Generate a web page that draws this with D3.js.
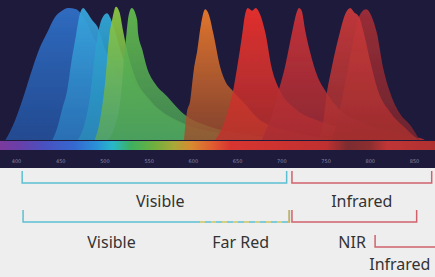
<!DOCTYPE html>
<html>
<head>
<meta charset="utf-8">
<script src="https://cdn.jsdelivr.net/npm/d3@7"></script>
<style>
  html, body { margin: 0; padding: 0; background: #eeeeee; }
  svg { display: block; }
</style>
</head>
<body>
<div id="chart"></div>
<script>
// wavelength ticks (nm)
const ticks = [400, 450, 500, 550, 600, 650, 700, 750, 800, 850];

// emission spectra: [wavelength nm, relative intensity]
const blueBroad = [[388,0],[393,6],[399,15],[407,30],[419,55],[427,70],[435,81],[444,93],[452,98],[459,100],[468,99],[478,91],[489,76],[506,57],[529,38],[563,19],[608,8],[665,2],[700,0]];
const blueSky = [[441,0],[446,8],[452,23],[458,38],[463,61],[468,80],[472,95],[476,100],[480,97],[486,91],[492,86],[501,68],[512,53],[529,34],[563,15],[619,5],[687,0]];
const cyan = [[470,0],[477,11],[484,34],[489,64],[494,85],[498,93],[503,96],[507,92],[513,80],[520,64],[529,49],[546,33],[574,17],[631,5],[710,0]];
const yellowGreen = [[489,0],[495,15],[501,45],[505,76],[509,92],[513,101],[517,97],[521,83],[527,64],[535,47],[552,30],[585,14],[642,4],[721,0]];
const green = [[504,0],[512,11],[518,30],[520,43],[523,68],[525,81],[527,93],[531,100],[537,91],[538,81],[543,68],[548,55],[557,43],[571,33],[589,20],[619,10],[653,5],[721,0]];
const orange = [[590,0],[593,20],[597,30],[601,53],[605,68],[609,87],[614,99],[618,95],[623,81],[631,55],[637,44],[644,38],[659,27],[676,15],[721,5],[766,0]];
const red1 = [[625,0],[633,9],[640,23],[645,36],[650,55],[656,81],[659,95],[662,100],[667,98],[671,100],[676,95],[682,81],[689,55],[698,38],[715,24],[744,14],[789,6],[857,1.5],[862,0]];
const red2 = [[678,0],[687,15],[693,27],[698,40],[704,55],[712,81],[718,98],[720,100],[723,98],[727,83],[732,68],[741,48],[749,38],[766,23],[789,14],[834,5],[862,0]];
const red3 = [[741,0],[746,8],[752,38],[757,55],[766,81],[772,95],[778,100],[782,97],[788,93],[794,79],[800,61],[809,38],[823,21],[840,9],[855,0]];
const red4 = [[757,0],[766,23],[775,53],[783,80],[789,95],[796,99],[803,92],[808,81],[815,55],[823,36],[834,20],[846,11],[852,5],[856,0]];

// drawing order (back to front) and colours
const spectra = [blueBroad, blueSky, cyan, yellowGreen, green, orange, red1, red2, red4, red3];
const topColors = ["#2f6fc6", "#38a6dc", "#2fa6d6", "#8cc640", "#62ba4c", "#ea7a2c", "#ea302c", "#cc3238", "#a02e36", "#c8383a"];
const bottomColors = ["#2556a6", "#2a78bc", "#2a8cb8", "#5aa85a", "#4a9e58", "#9c4c2c", "#c0302c", "#a82c32", "#80262e", "#a8302f"];

// brackets under the spectrum: [from nm, to nm]
const bandsTop = [[407, 706], [712, 870]];
const bandsTopLabels = ["Visible", "Infrared"];
const bandsTopLabelNm = [563, 791];
const bandsBottom = [[408, 709], [712, 853]];
const farRedRange = [608, 709];
const irSubRange = [806, 880];
const bandsBottomLabels = ["Visible", "Far Red", "NIR"];
const bandsBottomLabelNm = [508, 654, 780];
const irSubLabel = "Infrared";
const irSubLabelNm = 834;

const W = 435, H = 277;
const x = d3.scaleLinear().domain([400, 850]).range([16, 414]);
const y = d3.scaleLinear().domain([0, 100]).range([140, 8]);

const svg = d3.select("#chart").append("svg").attr("width", W).attr("height", H);
const defs = svg.append("defs");

// soft edges like the photo
defs.append("filter").attr("id", "soft")
  .append("feGaussianBlur").attr("stdDeviation", 0.5);

// backgrounds
svg.append("rect").attr("width", W).attr("height", H).attr("fill", "#eeeeee");
svg.append("rect").attr("width", W).attr("height", 168).attr("fill", "#1d1a3c");

// spectra
const area = d3.area()
  .x(d => x(d[0]))
  .y0(y(0))
  .y1(d => y(d[1]))
  .curve(d3.curveMonotoneX);

const gSpec = svg.append("g").attr("filter", "url(#soft)");
spectra.forEach((s, i) => {
  const g = defs.append("linearGradient").attr("id", "g" + i)
    .attr("x1", 0).attr("y1", 0).attr("x2", 0).attr("y2", 1);
  g.append("stop").attr("offset", "0%").attr("stop-color", topColors[i]).attr("stop-opacity", 0.95);
  g.append("stop").attr("offset", "100%").attr("stop-color", bottomColors[i]).attr("stop-opacity", 0.8);
  gSpec.append("path").datum(s).attr("d", area).attr("fill", "url(#g" + i + ")");
});

// colour bar
const barStops = [
  [0, "#7b3a9c"], [0.04, "#6b3ea8"], [0.1, "#4a50c0"], [0.17, "#3568d0"], [0.22, "#2a8fd8"],
  [0.26, "#28b8c8"], [0.3, "#3cb060"], [0.35, "#6ab040"], [0.4, "#a8a838"], [0.44, "#d88a30"],
  [0.49, "#e05a30"], [0.53, "#d83530"], [0.75, "#c03030"], [0.8, "#7c2c30"], [0.85, "#8c2e30"],
  [0.89, "#c03535"], [1, "#b03030"]
];
const bar = defs.append("linearGradient").attr("id", "bar");
barStops.forEach(s => bar.append("stop").attr("offset", s[0]).attr("stop-color", s[1]));
svg.append("rect").attr("x", 0).attr("y", 141).attr("width", W).attr("height", 9).attr("fill", "url(#bar)");

// tick labels
const axis = svg.append("g").attr("transform", "translate(0,158)")
  .call(d3.axisBottom(x).tickValues(ticks).tickSize(0).tickPadding(1));
axis.select(".domain").remove();
axis.selectAll("text").attr("fill", "#8c89a6").style("font-size", "5px").style("font-family", "DejaVu Sans");

// brackets
const cyanC = "#5cc0d2", redC = "#d0626c";
function bracket(r, top, bottom, color) {
  svg.append("path")
    .attr("d", `M${x(r[0])},${top}V${bottom}H${x(r[1])}V${top}`)
    .attr("fill", "none").attr("stroke", color).attr("stroke-width", 1.5);
}
bracket(bandsTop[0], 171, 183, cyanC);
bracket(bandsTop[1], 171, 183, redC);
bracket(bandsBottom[0], 210, 222, cyanC);
bracket(bandsBottom[1], 210, 222, redC);

// far red: dashed yellow over cyan
svg.append("line")
  .attr("x1", x(farRedRange[0])).attr("x2", x(farRedRange[1]))
  .attr("y1", 222).attr("y2", 222)
  .attr("stroke", "#efd266").attr("stroke-width", 1.6).attr("stroke-dasharray", "5,6");
svg.append("line")
  .attr("x1", x(farRedRange[1])).attr("x2", x(farRedRange[1]))
  .attr("y1", 210).attr("y2", 222.7)
  .attr("stroke", "#e8a83c").attr("stroke-width", 1.6);

// small infrared bracket
svg.append("path")
  .attr("d", `M${x(irSubRange[0])},235V247H${x(irSubRange[1])}`)
  .attr("fill", "none").attr("stroke", redC).attr("stroke-width", 1.5);

// labels
const font = "'Noto Sans', sans-serif";
function label(t, nm, by) {
  svg.append("text").attr("x", x(nm)).attr("y", by)
    .attr("text-anchor", "middle").attr("fill", "#333")
    .style("font-family", font).style("font-size", "16px").text(t);
}
bandsTopLabels.forEach((t, i) => label(t, bandsTopLabelNm[i], 207));
bandsBottomLabels.forEach((t, i) => label(t, bandsBottomLabelNm[i], 248));
label(irSubLabel, irSubLabelNm, 270);
</script>
</body>
</html>
